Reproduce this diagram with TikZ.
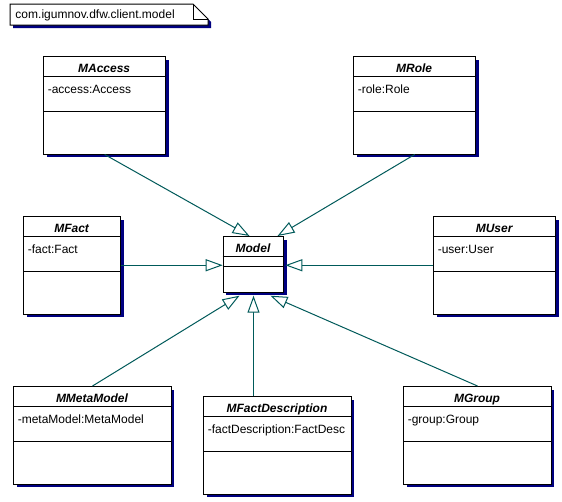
\documentclass[tikz,border=0pt]{standalone}
\usepackage{fontspec}
\setmainfont{Liberation Sans}
\usepackage{tikz}
\usetikzlibrary{calc, arrows.meta, shadows}

\definecolor{linecol}{RGB}{0,90,90}
\definecolor{shadowblue}{RGB}{0,0,128}

\begin{document}
\begin{tikzpicture}[x=1pt, y=-1pt, line width=1pt,
    cls/.style={draw, fill=white, minimum height=97.5pt, inner sep=0pt,
      drop shadow={shadow xshift=3pt, shadow yshift=-3pt, fill=shadowblue, opacity=1}},
    ctitle/.style={font=\fontsize{12}{14}\selectfont\bfseries\itshape, inner sep=0pt},
    cattr/.style={font=\fontsize{12}{14}\selectfont, inner sep=0pt},
    gen/.style={draw=linecol, line join=miter, -{Triangle[length=17pt, width=12pt, fill=white]}}]
    \fill[white] (0,0) rectangle (562,501);
    \useasboundingbox (0,0) rectangle (562,501);

    % package note
    \fill[shadowblue] (13,7) -- (196,7) -- (211,22) -- (211,28) -- (13,28) -- cycle;
    \draw[fill=white] (10,4) -- (193,4) -- (208,19) -- (208,25) -- (10,25) -- cycle;
    \draw (193,4) -- (193,19) -- (208,19);
    \node[cattr, anchor=base west] (pkg) at (15,18.5) {com.igumnov.dfw.client.model};

    % classes
    \foreach \name/\title/\attr/\x/\y/\w in {
        maccess/MAccess/-access:Access/43.3/56/121.7,
        mrole/MRole/-role:Role/353.3/56/121.7,
        mfact/MFact/-fact:Fact/23.3/216/96.7,
        muser/MUser/-user:User/433.3/216/121.7,
        mmetamodel/MMetaModel/-metaModel:MetaModel/13.3/386/157.4,
        mfactdesc/MFactDescription/-factDescription:FactDesc/203.3/396/147.4,
        mgroup/MGroup/-group:Group/403.3/386/147.4} {
      \node[cls, minimum width=\w pt, anchor=north west] (\name) at (\x,\y) {};
      \node[ctitle, anchor=base] (\name-t) at (\x+\w/2,\y+16.5) {\title};
      \draw ($(\name.north west)+(0,20.5)$) -- ($(\name.north east)+(0,20.5)$)
            ($(\name.north west)+(0,55)$) -- ($(\name.north east)+(0,55)$);
      \node[cattr, anchor=base west] (\name-a) at (\x+4,\y+37.8) {\attr};
    }

    \node[cls, minimum width=60.6pt, minimum height=55.7pt, anchor=north west] (model) at (222.7,236) {};
    \node[ctitle, anchor=base] (model-t) at (253,252.3) {Model};
    \draw ($(model.north west)+(0,20.7)$) -- ($(model.north east)+(0,20.7)$)
          ($(model.north west)+(0,30.7)$) -- ($(model.north east)+(0,30.7)$);

    % generalizations
    \draw[gen] (maccess.south) -- ($(model.north)+(-4,0)$);
    \draw[gen] (mrole.south) -- ($(model.north)+(24,0)$);
    \draw[gen] (mfact.east) -- (model.west |- mfact.east);
    \draw[gen] (muser.west) -- ($(model.east |- muser.west)+(1,0)$);
    \draw[gen] (mmetamodel.north) -- ($(model.south)+(-14,3)$);
    \draw[gen] (mfactdesc.north -| model.south) -- ($(model.south)+(0,3)$);
    \draw[gen] (mgroup.north) -- ($(model.south)+(17,3)$);
\end{tikzpicture}
\end{document}
